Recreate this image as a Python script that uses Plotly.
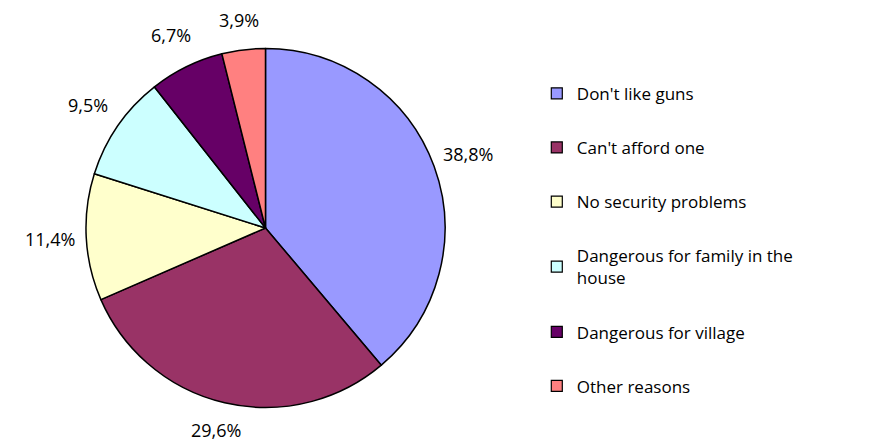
import math
import plotly.graph_objects as go

categories = ["Don't like guns", "Can't afford one", "No security problems",
              "Dangerous for family in the<br>house", "Dangerous for village", "Other reasons"]
values = [38.8, 29.6, 11.4, 9.5, 6.7, 3.9]
colors = ["#9999FF", "#993366", "#FFFFCC", "#CCFFFF", "#660066", "#FF8080"]

W, H = 880, 446
FONT = "Open Sans"

# pie domain (paper)
dx0, dx1 = 0.0977, 0.5057
dy0, dy1 = 0.0852, 0.8924

fig = go.Figure()
fig.add_trace(go.Pie(
    labels=categories, values=values, sort=False, direction="clockwise", rotation=0,
    marker=dict(colors=colors, line=dict(color="black", width=1.5)),
    textinfo="none", hoverinfo="label+percent", showlegend=False,
    domain=dict(x=[dx0, dx1], y=[dy0, dy1]),
))

# legend entries
for i, (c, col) in enumerate(zip(categories, colors)):
    fig.add_trace(go.Scatter(
        x=[None], y=[None], mode="markers", name=c, legendgroup=str(i),
        marker=dict(symbol="square", size=11, color=col, line=dict(color="black", width=1.2)),
    ))

# data labels along mid angles
cx = (dx0 + dx1) / 2 * W
cy = (1 - (dy0 + dy1) / 2) * H
R = (dx1 - dx0) * W / 2
total = sum(values)
cum = 0.0
for v in values:
    mid = (cum + v / 2) / total * 2 * math.pi
    cum += v
    r = R * 1.2
    px = cx + r * math.sin(mid)
    py = min(cy - r * math.cos(mid), H - 16)
    py = max(py, 20)
    fig.add_annotation(x=px / W, y=1 - py / H, xref="paper", yref="paper",
                       text=f"{v:.1f}".replace(".", ",") + "%", showarrow=False,
                       font=dict(family=FONT, size=18, color="black"),
                       xanchor="center", yanchor="middle")

fig.update_layout(
    width=W, height=H, margin=dict(l=0, r=0, t=0, b=0),
    paper_bgcolor="white", plot_bgcolor="white",
    xaxis=dict(visible=False), yaxis=dict(visible=False),
    legend=dict(x=0.61, y=0.83, xanchor="left", yanchor="top",
                font=dict(family=FONT, size=17, color="black"),
                tracegroupgap=29, traceorder="grouped", bgcolor="rgba(0,0,0,0)"),
    font=dict(family=FONT),
)

fig.write_html("out.html")
